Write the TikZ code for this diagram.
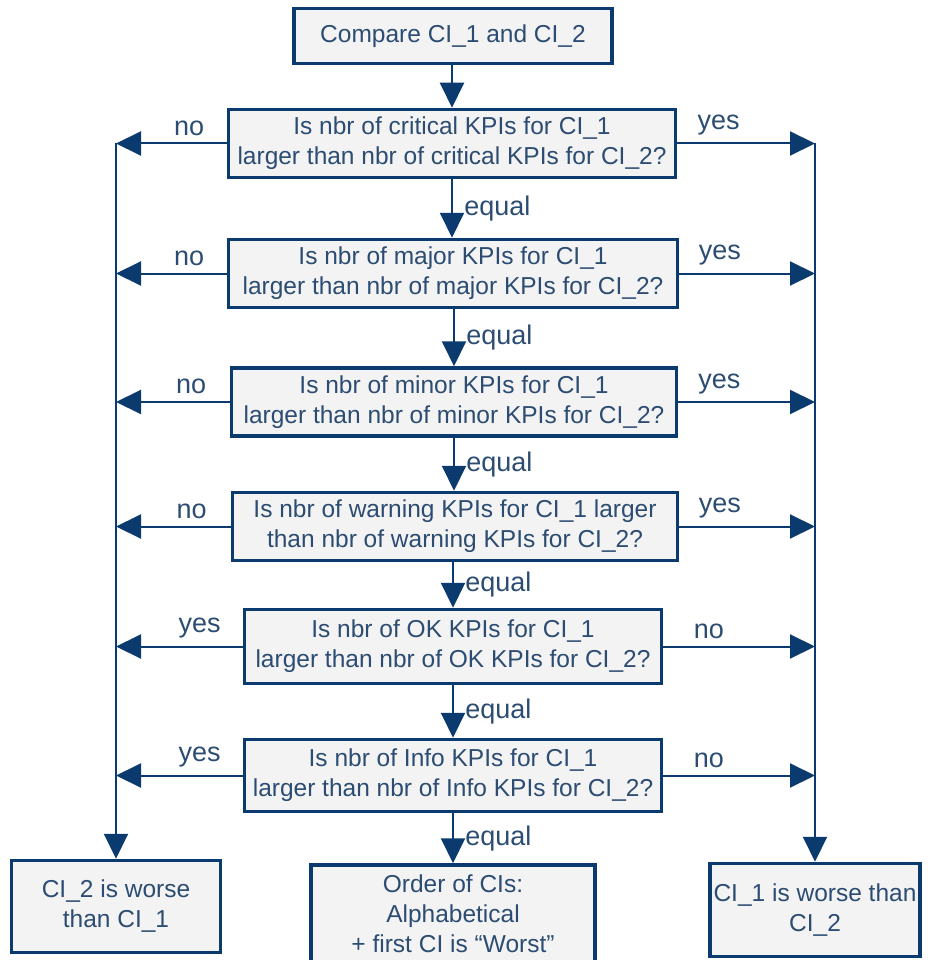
\documentclass[tikz,border=0pt]{standalone}
\usepackage{fontspec}
\setmainfont{Liberation Sans}
\usepackage{tikz}
\usetikzlibrary{arrows.meta}
\usepackage{xcolor}
\definecolor{navy}{HTML}{0B3A6E}
\definecolor{navytext}{HTML}{2C4C72}
\definecolor{boxfill}{HTML}{F3F3F3}

\begin{document}
\begin{tikzpicture}[
        x=1pt, y=-1pt,
        >={Triangle[length=25pt,width=24pt]},
        every node/.style={font=\fontsize{24.5}{30}\selectfont, text=navytext},
        qnode/.style={draw=navy, line width=3.5pt, fill=boxfill, align=center,
            inner sep=0pt, minimum height=68pt},
        flow/.style={->, draw=navy, line width=2pt},
        lab/.style={above, inner sep=0pt, yshift=7pt, font=\fontsize{27}{30}\selectfont},
        eq/.style={right, midway, xshift=8pt, font=\fontsize{27}{30}\selectfont}
    ]

    \useasboundingbox (0,0) rectangle (927,960);

    \node[qnode, minimum width=318pt, minimum height=55pt] (start) at (453,36) {Compare CI\_1 and CI\_2};

    \node[qnode, minimum width=447pt] (q1) at (452,143.5)
        {Is nbr of critical KPIs for CI\_1\\larger than nbr of critical KPIs for CI\_2?};
    \node[qnode, minimum width=449pt] (q2) at (453,273.5)
        {Is nbr of major KPIs for CI\_1\\larger than nbr of major KPIs for CI\_2?};
    \node[qnode, minimum width=445pt] (q3) at (454,402)
        {Is nbr of minor KPIs for CI\_1\\larger than nbr of minor KPIs for CI\_2?};
    \node[qnode, minimum width=445pt] (q4) at (455,526.5)
        {Is nbr of warning KPIs for CI\_1 larger\\than nbr of warning KPIs for CI\_2?};
    \node[qnode, minimum width=417pt, minimum height=74pt] (q5) at (453,646.5)
        {Is nbr of OK KPIs for CI\_1\\larger than nbr of OK KPIs for CI\_2?};
    \node[qnode, minimum width=417pt, minimum height=72pt] (q6) at (453,775.5)
        {Is nbr of Info KPIs for CI\_1\\larger than nbr of Info KPIs for CI\_2?};

    \node[qnode, minimum width=209pt, minimum height=92pt] (worse2) at (116,906.5)
        {CI\_2 is worse\\than CI\_1};
    \node[qnode, minimum width=284pt, minimum height=98pt] (order) at (453,914)
        {Order of CIs:\\Alphabetical\\+ first CI is “Worst”};
    \node[qnode, minimum width=210pt, minimum height=93pt] (worse1) at (815,910)
        {CI\_1 is worse than\\CI\_2};

    % side trunks
    \coordinate (trunkL) at (116,143.5);
    \coordinate (trunkR) at (815,143.5);
    \draw[flow] (trunkL) -- (worse2.north);
    \draw[flow] (trunkR) -- (worse1.north);

    % main column
    \draw[flow] (start.south -| q1) -- (q1);
    \draw[flow] (q1) -- (q2.north -| q1) node[eq] {equal};
    \draw[flow] (q2.south -| q3) -- (q3) node[eq] {equal};
    \draw[flow] (q3) -- (q4.north -| q3) node[eq] {equal};
    \draw[flow] (q4.south -| q5) -- (q5) node[eq] {equal};
    \draw[flow] (q5) -- (q6) node[eq] {equal};
    \draw[flow] (q6) -- (order) node[eq] {equal};

    % branches
    \foreach \q/\l/\r in {q1/no/yes, q2/no/yes, q3/no/yes, q4/no/yes, q5/yes/no, q6/yes/no} {
        \draw[flow] (\q.west) -- (\q.west -| trunkL) node[lab, pos=0.34] {\l};
        \draw[flow] (\q.east) -- (\q.east -| trunkR) node[lab, pos=0.30] {\r};
    }

\end{tikzpicture}
\end{document}
